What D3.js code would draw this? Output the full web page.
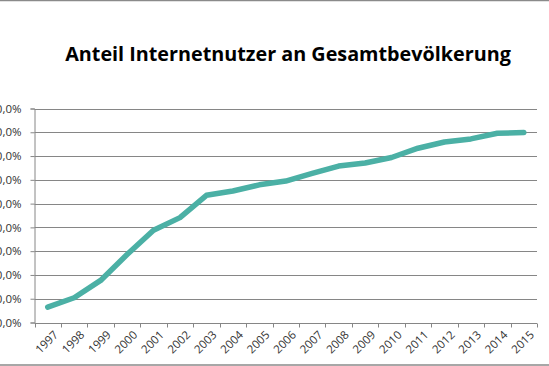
<!DOCTYPE html>
<html>
<head>
<meta charset="utf-8">
<script src="https://cdn.jsdelivr.net/npm/d3@7"></script>
<style>
  body { margin: 0; background: #fff; }
  svg { display: block; }
</style>
</head>
<body>
<div id="chart"></div>
<script>
// Data
var years = ["1997","1998","1999","2000","2001","2002","2003","2004","2005","2006",
             "2007","2008","2009","2010","2011","2012","2013","2014","2015"];
var share = [6.5, 10.4, 17.7, 28.6, 38.8, 44.1, 53.5, 55.3, 57.9, 59.5,
             62.7, 65.8, 67.1, 69.4, 73.3, 75.9, 77.2, 79.6, 79.9];
var yTicks = [0, 10, 20, 30, 40, 50, 60, 70, 80, 90];
var title = "Anteil Internetnutzer an Gesamtbevölkerung";

var W = 549, H = 366;
var plot = {left: 34.5, right: 537, top: 108.5, bottom: 322.5};

var svg = d3.select("#chart").append("svg")
    .attr("width", W)
    .attr("height", H);

// frame lines top and bottom
svg.append("line").attr("x1", 0).attr("x2", W).attr("y1", 0.5).attr("y2", 0.5)
    .attr("stroke", "#8a8a8a").attr("stroke-width", 1.5);
svg.append("line").attr("x1", 0).attr("x2", W).attr("y1", 365).attr("y2", 365)
    .attr("stroke", "#8a8a8a").attr("stroke-width", 1.5);

var x = d3.scaleBand().domain(years).range([plot.left, plot.right]);
var y = d3.scaleLinear().domain([0, 90]).range([plot.bottom, plot.top]);

// title
var t = svg.append("text")
    .attr("x", 288)
    .attr("y", 61)
    .attr("text-anchor", "middle")
    .style("font-family", "'Open Sans', sans-serif")
    .style("font-weight", "bold")
    .style("font-size", "19px")
    .style("fill", "#000")
    .text(title);
var tw = t.node().getComputedTextLength();
t.style("font-size", (19 * 446 / tw) + "px");

// horizontal gridlines
svg.selectAll("line.grid").data(yTicks.slice(1)).enter()
  .append("line")
    .attr("class", "grid")
    .attr("x1", plot.left)
    .attr("x2", plot.right)
    .attr("y1", function(d) { return Math.round(y(d)) + 0.5; })
    .attr("y2", function(d) { return Math.round(y(d)) + 0.5; })
    .attr("stroke", "#868686")
    .attr("stroke-width", 1);

// left axis
var yAxis = svg.append("g")
    .attr("transform", "translate(" + plot.left + ",0)")
    .call(d3.axisLeft(y).tickValues(yTicks).tickSize(4).tickPadding(9)
      .tickFormat(function(d) { return d.toFixed(1).replace(".", ",") + "%"; }));
yAxis.selectAll("path, line").attr("stroke", "#868686");
yAxis.selectAll("text")
    .style("font-family", "'Open Sans', sans-serif")
    .style("font-size", "11.5px")
    .style("fill", "#333");

// bottom axis with ticks between the categories
var xAxis = svg.append("g")
    .attr("transform", "translate(0," + (Math.round(plot.bottom) + 0.5) + ")");
xAxis.append("line")
    .attr("x1", plot.left).attr("x2", plot.right)
    .attr("stroke", "#868686");
var edges = years.map(function(d) { return x(d); }).concat([plot.right]);
xAxis.selectAll("line.tick").data(edges).enter()
  .append("line")
    .attr("class", "tick")
    .attr("x1", function(d) { return Math.round(d) + 0.5; })
    .attr("x2", function(d) { return Math.round(d) + 0.5; })
    .attr("y1", 0).attr("y2", 4)
    .attr("stroke", "#868686");
xAxis.selectAll("text").data(years).enter()
  .append("text")
    .attr("text-anchor", "end")
    .attr("transform", function(d) {
        return "translate(" + (x(d) + x.bandwidth() / 2 + 5) + ",6) rotate(-45)";
    })
    .attr("dy", "0.75em")
    .style("font-family", "'Open Sans', sans-serif")
    .style("font-size", "11.5px")
    .style("fill", "#333")
    .text(function(d) { return d; });

// data line
var line = d3.line()
    .x(function(d, i) { return x(years[i]) + x.bandwidth() / 2; })
    .y(function(d) { return y(d); });

svg.append("path")
    .datum(share)
    .attr("d", line)
    .attr("fill", "none")
    .attr("stroke", "#4bb0a5")
    .attr("stroke-width", 5.5)
    .attr("stroke-linejoin", "round")
    .attr("stroke-linecap", "round");
</script>
</body>
</html>
